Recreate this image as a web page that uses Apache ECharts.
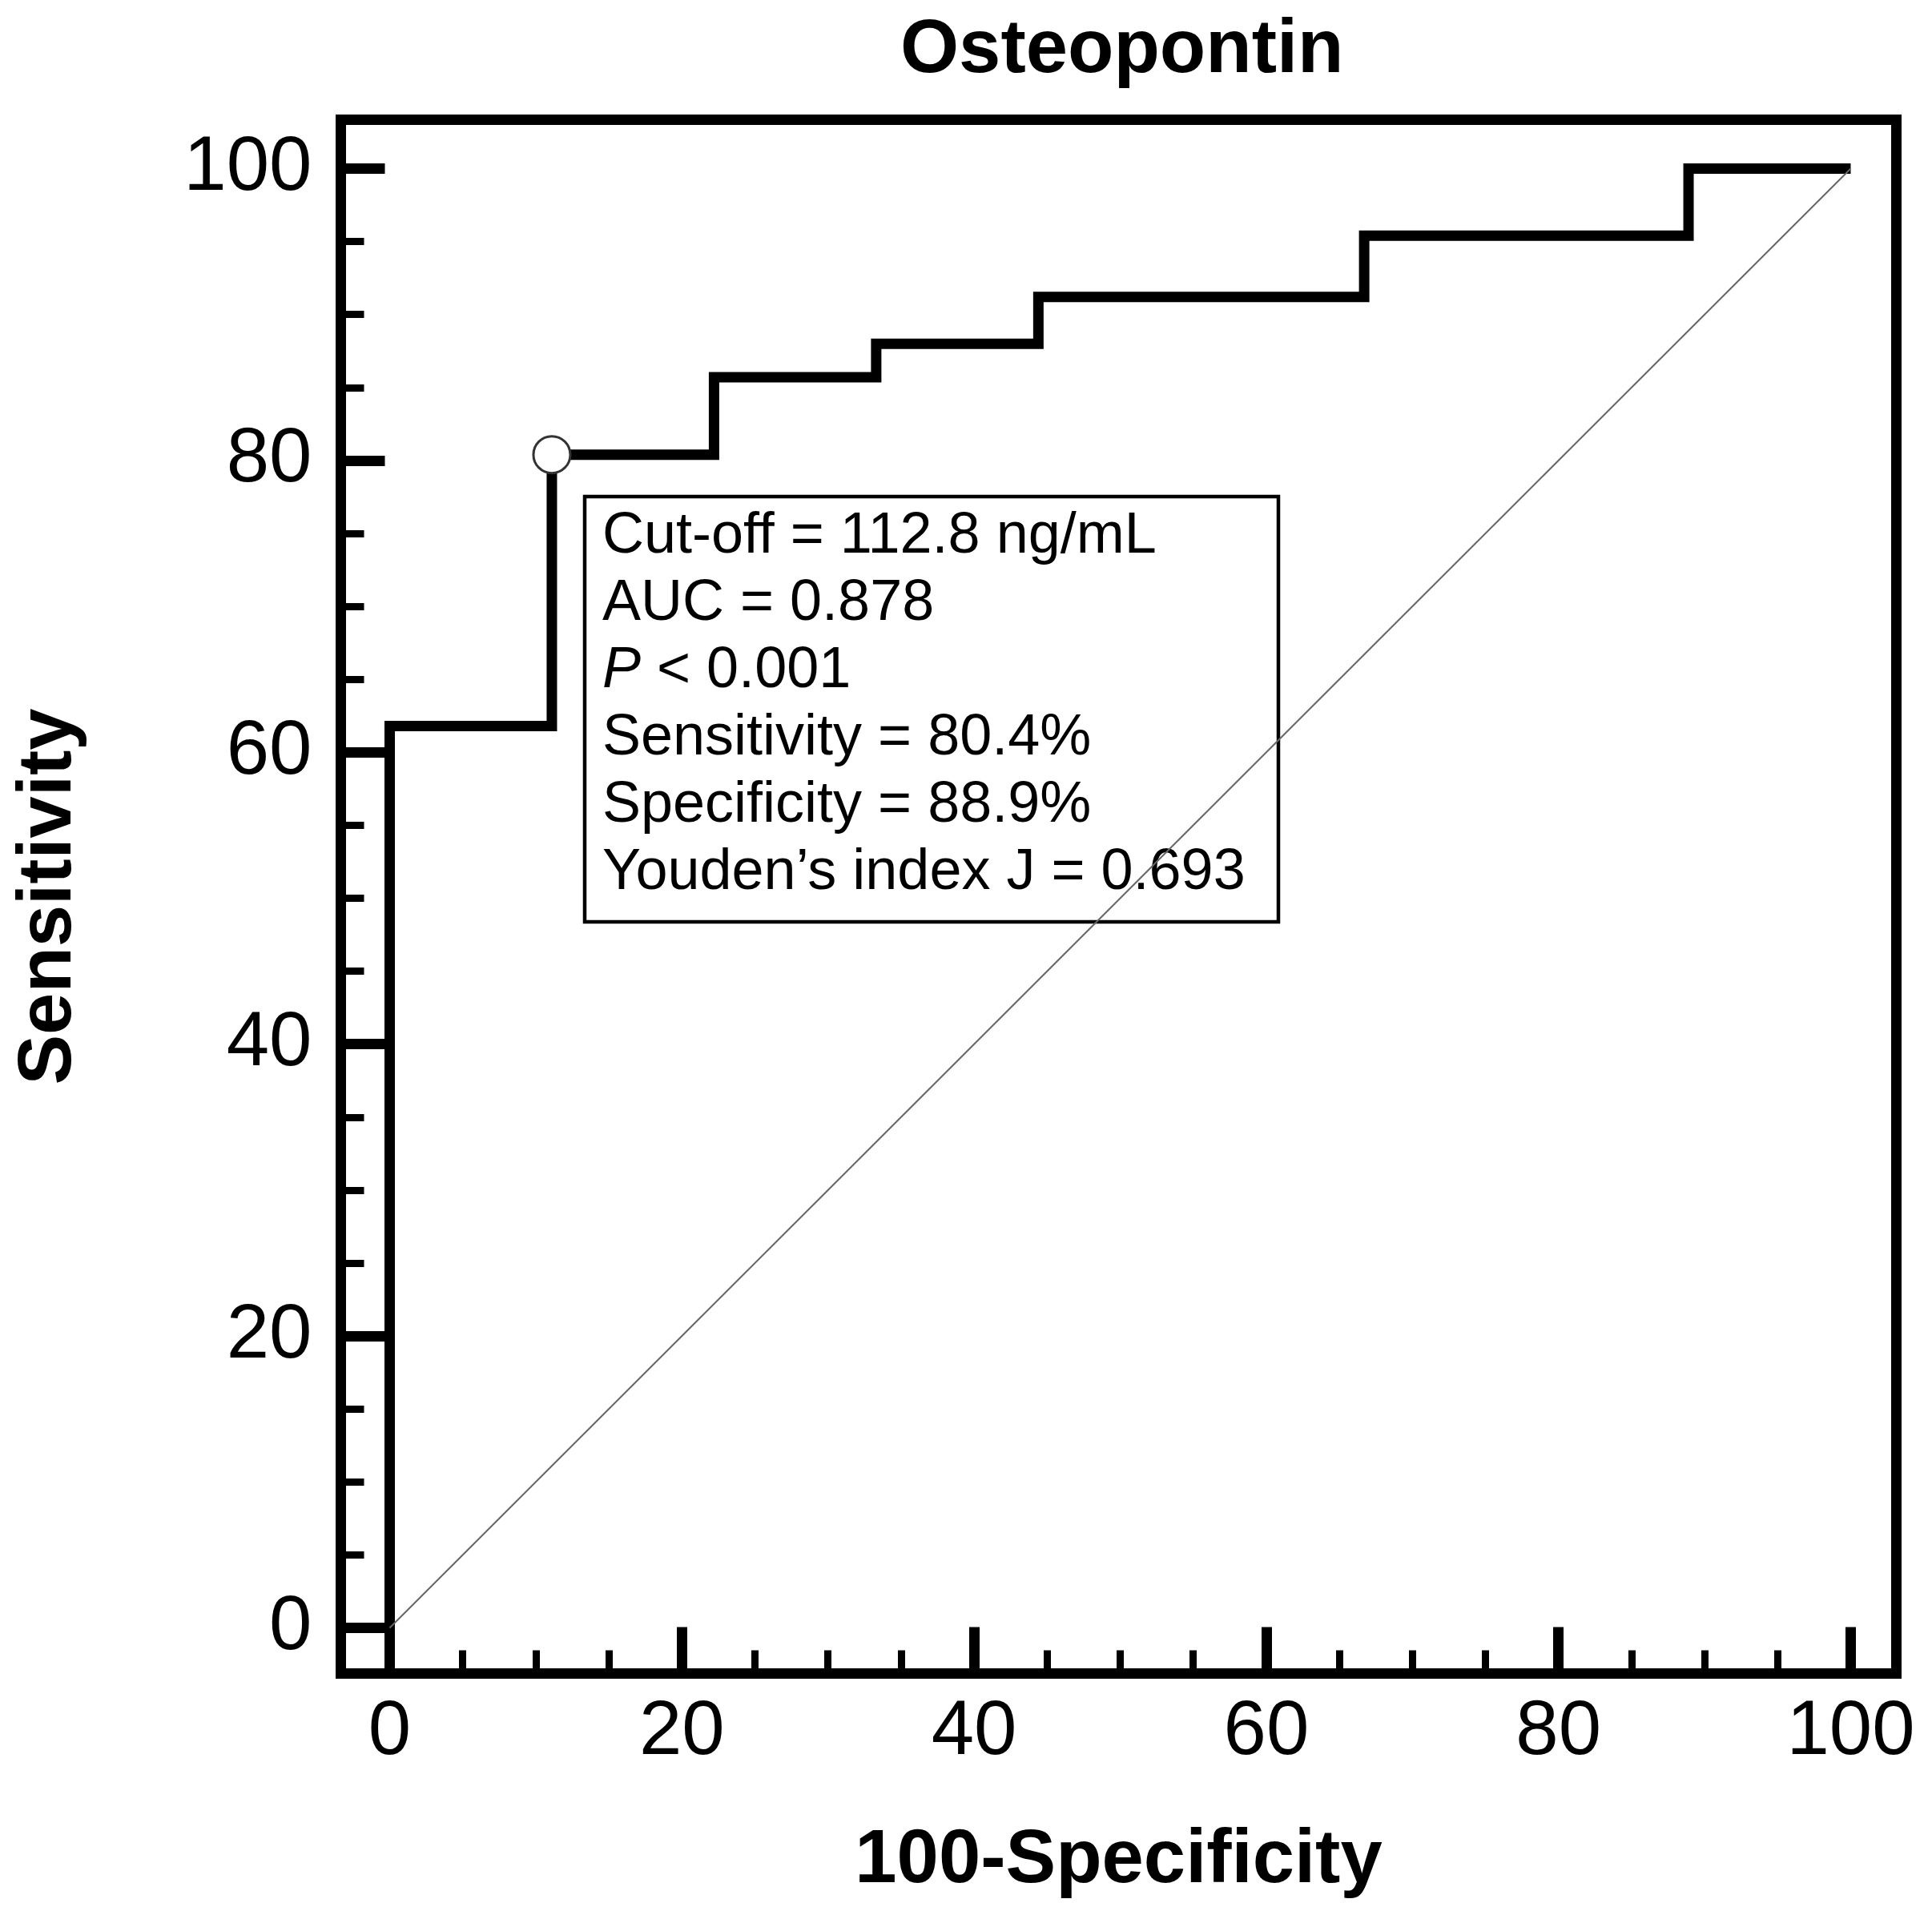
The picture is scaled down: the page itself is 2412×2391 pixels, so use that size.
<!DOCTYPE html>
<html>
<head>
<meta charset="utf-8">
<title>Osteopontin ROC</title>
<script src="https://cdn.jsdelivr.net/npm/echarts@6/dist/echarts.min.js"></script>
<style>
    html, body { margin: 0; padding: 0; background: #fff; }
    #chart { width: 2412px; height: 2391px; }
</style>
</head>
<body>
<div id="chart"></div>
<script>
// ROC 曲线数据 (100-Specificity, Sensitivity)
var fpr = [0, 0, 11.1, 22.2, 33.3, 44.4, 66.7, 88.9, 100];
var tpr = [0, 61.8, 80.4, 85.7, 88.0, 91.2, 95.4, 100, 100];

// 对角参考线
var diagX = [0, 100];
var diagY = [0, 100];

// 最佳截断点
var cutPoint = [11.1, 80.4];

// 刻度
var majorTicks = [0, 20, 40, 60, 80, 100];
var minorTicks = [5, 10, 15, 25, 30, 35, 45, 50, 55, 65, 70, 75, 85, 90, 95];

// 统计信息框
var statLines = [
    '{n|Cut-off = 112.8 ng/mL}',
    '{n|AUC = 0.878}',
    '{i|P}{n| < 0.001}',
    '{n|Sensitivity = 80.4%}',
    '{n|Specificity = 88.9%}',
    '{n|Youden\u2019s index J = 0.693}'
];

var FONT = '"Liberation Sans", Arial, sans-serif';

function zip(a, b) {
    return a.map(function (v, i) { return [v, b[i]]; });
}

// 主刻度轴 + 次刻度轴
function makeAxis(isX, major) {
    var axis = {
        type: 'value',
        min: isX ? -3.344 : -3.128,
        max: isX ? 103.125 : 103.35,
        position: isX ? 'bottom' : 'left',
        axisLine: { show: false, onZero: false },
        splitLine: { show: false },
        axisTick: {
            show: true,
            inside: true,
            customValues: major ? majorTicks : minorTicks,
            length: major ? (isX ? 58 : 55) : 29,
            lineStyle: { color: '#000', width: major ? 13 : 9, cap: 'butt' }
        },
        axisLabel: { show: false }
    };
    if (major) {
        axis.axisLabel = {
            show: true,
            customValues: majorTicks,
            margin: isX ? 26 : 36,
            color: '#000',
            fontSize: 96,
            fontFamily: FONT
        };
        axis.name = isX ? '100-Specificity' : 'Sensitivity';
        axis.nameLocation = 'middle';
        axis.nameGap = isX ? 188 : 316;
        axis.nameTextStyle = {
            color: '#000',
            fontSize: 94,
            fontWeight: 'bold',
            fontFamily: FONT
        };
    }
    return axis;
}

var dom = document.getElementById('chart');
var myChart = echarts.init(dom, null, { renderer: 'canvas' });

var option = {
    backgroundColor: '#fff',
    animation: false,
    title: {
        text: 'Osteopontin',
        left: 1124,
        top: 17,
        padding: 0,
        textStyle: {
            color: '#000',
            fontSize: 94,
            fontWeight: 'bold',
            fontFamily: FONT
        }
    },
    grid: {
        left: 425.5,
        top: 149.5,
        width: 1942,
        height: 1940,
        show: true,
        borderColor: '#000',
        borderWidth: 13,
        backgroundColor: 'transparent'
    },
    xAxis: [makeAxis(true, true), makeAxis(true, false)],
    yAxis: [makeAxis(false, true), makeAxis(false, false)],
    series: [
        {
            name: 'diagonal',
            type: 'line',
            data: zip(diagX, diagY),
            symbol: 'none',
            z: 12,
            lineStyle: { color: '#666', width: 2 }
        },
        {
            name: 'ROC',
            type: 'line',
            step: 'end',
            data: zip(fpr, tpr),
            symbol: 'none',
            z: 3,
            lineStyle: { color: '#000', width: 13, join: 'miter', cap: 'butt' }
        },
        {
            name: 'cut-off',
            type: 'scatter',
            data: [cutPoint],
            symbol: 'circle',
            symbolSize: 46,
            z: 4,
            itemStyle: { color: '#fff', borderColor: '#333', borderWidth: 3, opacity: 1 }
        }
    ],
    graphic: [
        {
            type: 'rect',
            shape: { x: 730, y: 620, width: 866, height: 531 },
            style: { fill: 'transparent', stroke: '#000', lineWidth: 4.5 },
            z: 10
        },
        {
            type: 'text',
            x: 752,
            y: 628,
            z: 11,
            style: {
                text: statLines.join('\n'),
                fill: '#000',
                fontSize: 72,
                fontFamily: FONT,
                verticalAlign: 'top',
                rich: {
                    n: { fontSize: 72, fontFamily: FONT, lineHeight: 84, fill: '#000' },
                    i: { fontSize: 72, fontFamily: FONT, fontStyle: 'italic', lineHeight: 84, fill: '#000' }
                }
            }
        }
    ]
};

myChart.setOption(option);
</script>
</body>
</html>
